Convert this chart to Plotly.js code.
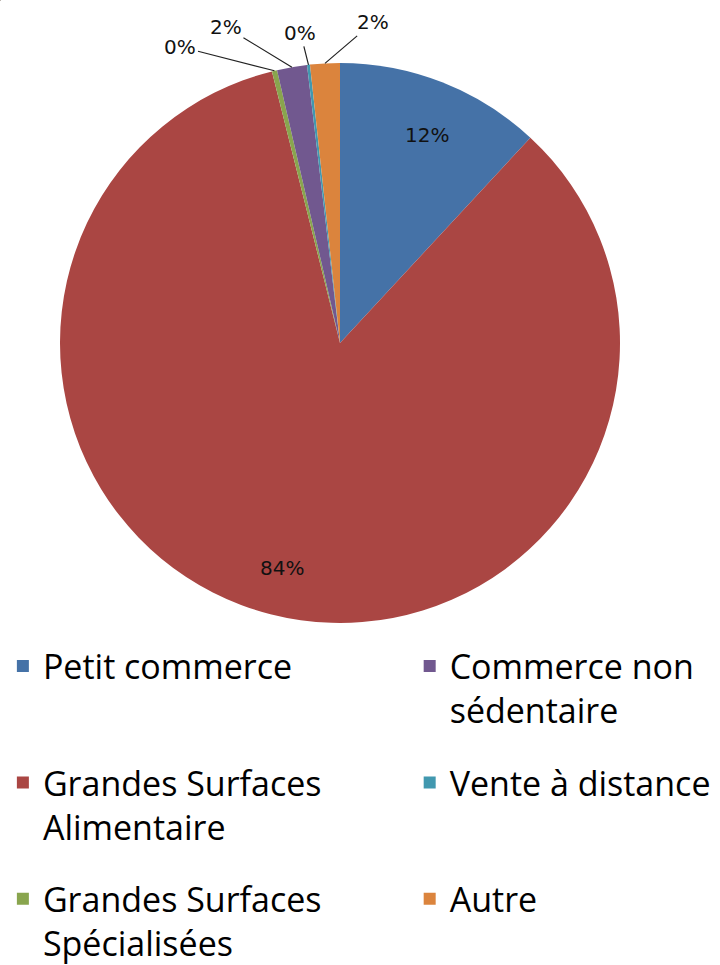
<!DOCTYPE html>
<html>
<head>
<meta charset="utf-8">
<script src="https://cdn.plot.ly/plotly-3.0.1.min.js"></script>
<style>body{margin:0;background:#fff}</style>
</head>
<body>
<div id="c1" style="width:720px;height:965px"></div>
<script>
// slices, clockwise from 12 o'clock
var labels = ["Petit commerce", "Grandes Surfaces<br>Alimentaire", "Grandes Surfaces<br>Spécialisées",
              "Commerce non<br>sédentaire", "Vente à distance", "Autre"];
var values = [11.9, 84.2, 0.3, 1.73, 0.17, 1.71];
var colors = ["#4572A7", "#AA4643", "#89A54E", "#71588F", "#4198AF", "#DB843D"];
// which legend column each entry sits in
var legendCol = ['legend', 'legend', 'legend', 'legend2', 'legend2', 'legend2'];
// label placement: inside at a radius fraction, or outside with a pixel offset
var labelIn = [0.85, 0.83, null, null, null, null];
var labelOff = [null, null, [-94, -24], [-66, -40], [-8, -32], [48, -41]];

var W = 720, H = 965;
var cx = 340, cy = 343, R = 280;

var total = values.reduce(function(a, b){ return a + b; }, 0);

var pie = {
	type: 'pie',
	labels: labels,
	values: values,
	marker: {colors: colors, line: {width: 0}},
	sort: false,
	direction: 'clockwise',
	rotation: 0,
	textinfo: 'none',
	hoverinfo: 'label+percent',
	showlegend: false,
	domain: {x: [(cx - R) / W, (cx + R) / W], y: [1 - (cy + R) / H, 1 - (cy - R) / H]}
};

// one tiny pie per legend entry so the legend can be laid out in two columns
var data = [pie];
for (var i = 0; i < labels.length; i++) {
	var txt = labels[i].indexOf('<br>') < 0 ? labels[i] + '<br>\u00a0' : labels[i];
	data.push({
		type: 'pie',
		labels: [txt],
		values: [1],
		marker: {colors: [colors[i]], line: {width: 0}},
		textinfo: 'none',
		hoverinfo: 'skip',
		legend: legendCol[i],
		legendgroup: 'g' + i,
		domain: {x: [0.0005, 0.001], y: [0.9995, 1]}
	});
}

// percentage labels
var annotations = [];
var cum = 0;
for (var i = 0; i < values.length; i++) {
	var mid = (cum + values[i] / 2) / total * 2 * Math.PI;
	cum += values[i];
	var pct = Math.round(values[i] / total * 100) + '%';
	if (labelIn[i] !== null) {
		var px = cx + R * labelIn[i] * Math.sin(mid);
		var py = cy - R * labelIn[i] * Math.cos(mid);
		annotations.push({
			x: px / W, y: 1 - py / H, xref: 'paper', yref: 'paper',
			text: pct, showarrow: false,
			font: {family: 'DejaVu Sans', size: 20, color: '#111'}
		});
	} else {
		var px = cx + R * Math.sin(mid);
		var py = cy - R * Math.cos(mid);
		annotations.push({
			x: px / W, y: 1 - py / H, xref: 'paper', yref: 'paper',
			text: pct, showarrow: true, arrowhead: 0, arrowwidth: 1.2,
			arrowcolor: '#222', standoff: 0,
			ax: labelOff[i][0], ay: labelOff[i][1],
			font: {family: 'DejaVu Sans', size: 20, color: '#111'}
		});
	}
}

var legendStyle = {
	x: 0.004,
	xanchor: 'left',
	y: 0.3395,
	yanchor: 'top',
	traceorder: 'grouped',
	tracegroupgap: 25,
	valign: 'top',
	bgcolor: 'rgba(0,0,0,0)',
	font: {family: 'Open Sans', size: 34, color: '#000'}
};
var legend2Style = JSON.parse(JSON.stringify(legendStyle));
legend2Style.x = 0.569;

var layout = {
	width: W,
	height: H,
	margin: {l: 0, r: 0, t: 0, b: 0, autoexpand: false},
	paper_bgcolor: '#fff',
	showlegend: true,
	legend: legendStyle,
	legend2: legend2Style,
	annotations: annotations
};

Plotly.newPlot('c1', data, layout, {displayModeBar: false});
</script>
</body>
</html>
